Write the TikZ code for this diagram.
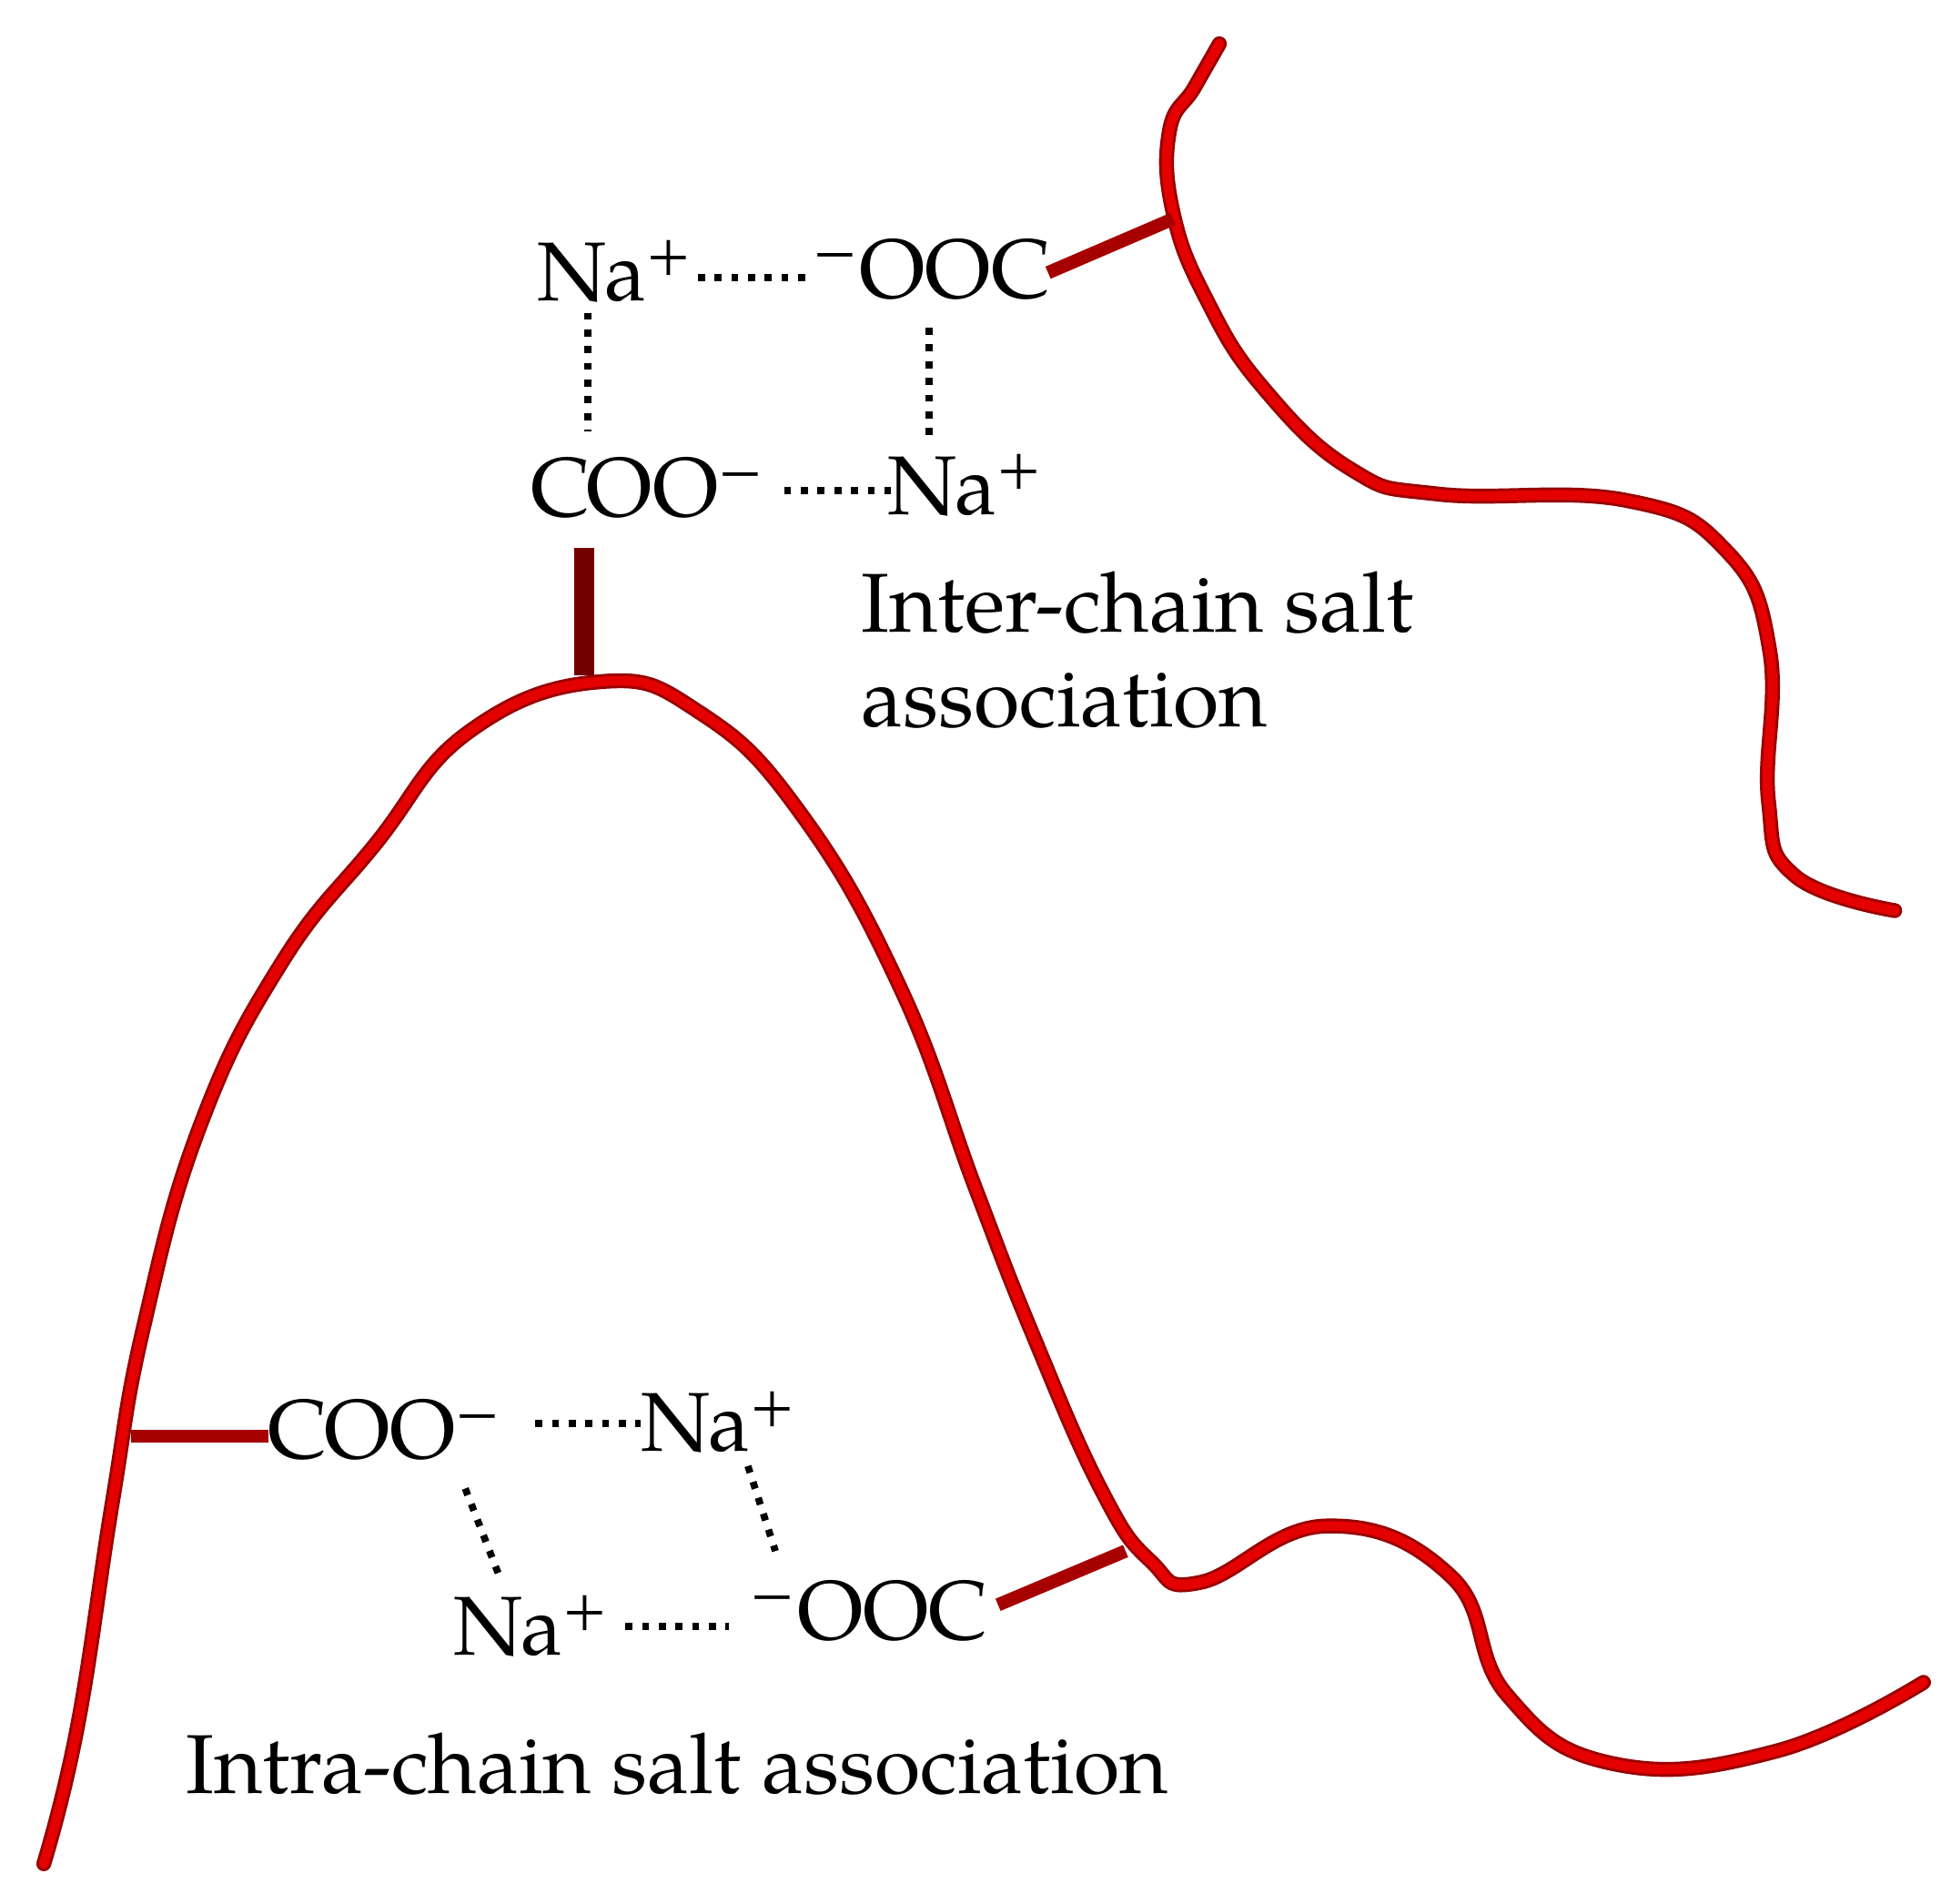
\documentclass[tikz,border=0pt]{standalone}
\usepackage{fontspec}
\setmainfont{TeX Gyre Pagella}
\begin{document}
\begin{tikzpicture}[x=0.01cm,y=-0.01cm,
  chainout/.style={draw=red!60!black,line width=3.4pt,line cap=round},
  chainin/.style={draw=red!90!black,line width=2.2pt,line cap=round},
  stub/.style={draw=red!65!black,line width=3pt},
  dots/.style={draw=black,line width=1.6pt,dash pattern=on 1.6pt off 2.2pt},
  lab/.style={font=\fontsize{19}{23}\selectfont,inner sep=0pt}]
\useasboundingbox (0,0) rectangle (1560,1522);
\def\chainA{(975,35) (955,70) (935,105) (938,170) (965,240) (1010,310) (1080,375) (1150,395) (1300,400) (1380,440) (1415,520) (1414,640) (1435,700) (1515,728)}
\def\chainB{(35,1490) (62,1380) (90,1200) (115,1060) (160,900) (225,770) (300,675) (375,585) (480,545) (560,570) (640,650) (720,790) (780,950) (825,1065) (880,1190) (920,1248) (960,1265) (1060,1220) (1160,1260) (1205,1355) (1290,1410) (1420,1400) (1538,1345)}
\draw[chainout] plot[smooth,tension=0.75] coordinates {\chainA};
\draw[chainin] plot[smooth,tension=0.75] coordinates {\chainA};
\draw[chainout] plot[smooth,tension=0.75] coordinates {\chainB};
\draw[chainin] plot[smooth,tension=0.75] coordinates {\chainB};
\coordinate (s1a) at (838,218); \coordinate (s1b) at (938,175);
\coordinate (s2a) at (467,438); \coordinate (s2b) at (467,540);
\coordinate (s3a) at (105,1148); \coordinate (s3b) at (215,1148);
\coordinate (s4a) at (798,1283); \coordinate (s4b) at (900,1240);
\draw[stub] (s1a) -- (s1b);
\draw[draw=red!45!black,line width=4.5pt] (s2a) -- (s2b);
\draw[stub] (s3a) -- (s3b);
\draw[stub] (s4a) -- (s4b);
% top group
\node[lab] (na1) at (492,217) {Na\textsuperscript{+}};
\node[lab] (oo1) at (745,215) {\textsuperscript{−}OOC};
\node[lab] (co1) at (518,390) {COO\textsuperscript{−}};
\node[lab] (na2) at (772,388) {Na\textsuperscript{+}};
\draw[dots] (558,222) -- (645,222);
\draw[dots] (627,392) -- (712,392);
\draw[dots] (470,250) -- (470,345);
\draw[dots] (743,262) -- (743,355);
\node[lab,anchor=west] (t1) at (688,482) {Inter-chain salt};
\node[lab,anchor=west] (t2) at (688,560) {association};
% bottom group
\node[lab] (co2) at (308,1143) {COO\textsuperscript{−}};
\node[lab] (na3) at (575,1137) {Na\textsuperscript{+}};
\node[lab] (na4) at (425,1300) {Na\textsuperscript{+}};
\node[lab] (oo2) at (695,1288) {\textsuperscript{−}OOC};
\draw[dots] (428,1138) -- (512,1138);
\draw[dots] (500,1300) -- (583,1300);
\draw[dots] (372,1190) -- (400,1262);
\draw[dots] (598,1172) -- (620,1240);
\node[lab,anchor=west] (t3) at (148,1410) {Intra-chain salt association};
\end{tikzpicture}
\end{document}
